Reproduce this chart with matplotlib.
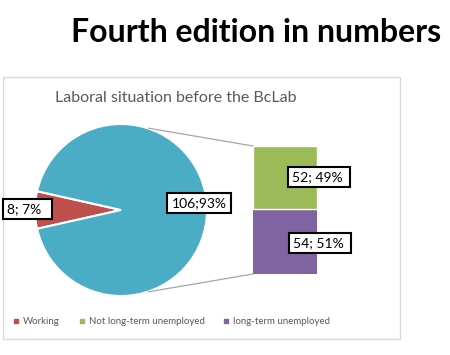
import matplotlib.pyplot as plt
import numpy as np
from matplotlib.lines import Line2D
from matplotlib.patches import Rectangle

# data
pie_labels = ["Working", "Unemployed"]
pie_values = [8, 106]
pie_text = ["8; 7%", "106;93%"]
bar_labels = ["long-term unemployed", "Not long-term unemployed"]
bar_values = [54, 52]
bar_text = ["54; 51%", "52; 49%"]
legend_labels = ["Working", "Not long-term unemployed", "long-term unemployed"]

red, teal, green, purple = "#C0504D", "#4BACC6", "#9BBB59", "#8064A2"

plt.rcParams['font.family'] = ['Lato', 'DejaVu Sans']

W, H = 450, 355
fig = plt.figure(figsize=(W / 100, H / 100), dpi=100)
ax = fig.add_axes([0, 0, 1, 1])

# page title
ax.text(256, H - 33, "Fourth edition in numbers", ha="center", va="center",
        fontsize=23, fontweight="bold", color="black")

# chart frame
ax.add_patch(Rectangle((3, H - 339), 397, 262, fill=False, edgecolor="#D9D9D9", lw=1))
ax.text(176, H - 98, "Laboral situation before the BcLab", ha="center", va="center",
        fontsize=11.5, color="#595959")

# pie
cx, cy, r = 121, H - 210, 86
start = 180 - pie_values[0] / sum(pie_values) * 360 / 2
ax.pie(pie_values, colors=[red, teal], startangle=start, center=(cx, cy), radius=r,
       wedgeprops=dict(edgecolor="white", linewidth=1.5), frame=True)
ax.set_xlim(0, W)
ax.set_ylim(0, H)
ax.set_aspect("equal")
ax.axis("off")

# stacked bar of the second-pie breakdown
bx, bw = 285, 64
scale = 128 / sum(bar_values)
bottom = H - 274
heights = [v * scale for v in bar_values]
ax.bar(bx, heights[0], width=bw, bottom=bottom, color=purple)
ax.bar(bx, heights[1], width=bw, bottom=bottom + heights[0], color=green,
       edgecolor="white", linewidth=1)
top = bottom + sum(heights)

# connector lines
ang = np.deg2rad(72)
ax.plot([cx + r * np.cos(ang) + 1, bx - bw / 2], [cy + r * np.sin(ang), top], color="#A6A6A6", lw=0.9)
ax.plot([cx + r * np.cos(ang) + 1, bx - bw / 2], [cy - r * np.sin(ang), bottom], color="#A6A6A6", lw=0.9)

box = dict(boxstyle="square,pad=0.3", facecolor="white", edgecolor="black", lw=1.5)
ax.text(7, H - 209, pie_text[0] + "  ", ha="left", va="center", fontsize=10, bbox=box)
ax.text(199, H - 203, pie_text[1], ha="center", va="center", fontsize=10, bbox=box)
ax.text(292, H - 177, bar_text[1] + " ", ha="left", va="center", fontsize=10, bbox=box)
ax.text(293, H - 243, bar_text[0] + " ", ha="left", va="center", fontsize=10, bbox=box)

# legend
handles = [Line2D([], [], marker="s", ls="", color=c, markersize=3.5) for c in [red, green, purple]]
ax.legend(handles, legend_labels, loc="center left", bbox_to_anchor=(10 / W, 1 - 322 / H),
          ncol=3, frameon=False, fontsize=7.0, handlelength=0.5, handletextpad=0.45,
          columnspacing=2.0, labelcolor="#595959", borderaxespad=0)

fig.savefig("out.png", dpi=100)
